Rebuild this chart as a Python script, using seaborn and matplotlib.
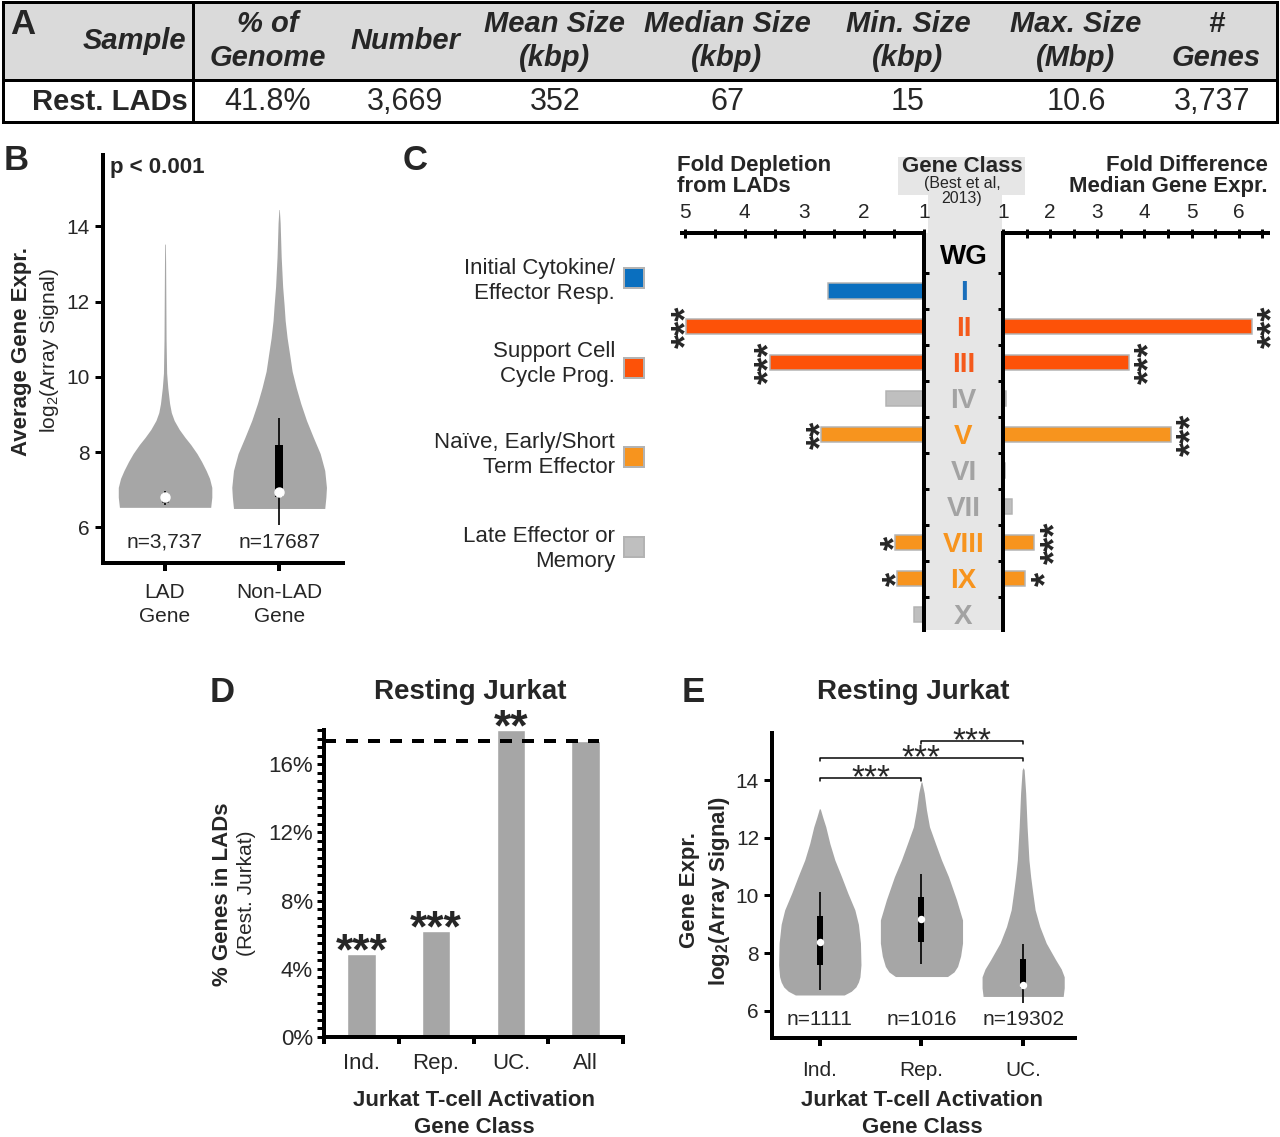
import numpy as np
import pandas as pd
import matplotlib
matplotlib.use("Agg")
import matplotlib.pyplot as plt
from matplotlib.patches import Rectangle
from matplotlib.ticker import MultipleLocator, FixedLocator
import seaborn as sns

# ================= DATA =================
# Panel A: LAD summary table
table_columns = ["Sample", "% of\nGenome", "Number", "Mean Size\n(kbp)", "Median Size\n(kbp)",
                 "Min. Size\n(kbp)", "Max. Size\n(Mbp)", "#\nGenes"]
table_row = ["Rest. LADs", "41.8%", "3,669", "352", "67", "15", "10.6", "3,737"]

# Panel B: expression of LAD vs non-LAD genes (violin outlines)
b_groups = ["LAD\nGene", "Non-LAD\nGene"]
b_counts = ["n=3,737", "n=17687"]
b_lad_level = [6.53, 6.8, 7.06, 7.3, 7.51, 7.75, 7.96, 8.2, 8.39, 8.6, 8.84, 9.05, 9.29, 9.71, 10.1, 11.0, 12.0, 13.0, 13.53]
b_lad_width = [0.40, 0.41, 0.41, 0.39, 0.36, 0.32, 0.28, 0.225, 0.175, 0.125, 0.08, 0.055, 0.04, 0.024, 0.014, 0.009, 0.007, 0.005, 0.003]
b_nonlad_level = [6.5, 6.8, 7.06, 7.51, 7.96, 8.39, 8.84, 9.29, 9.71, 10.15, 10.6, 11.04, 11.5, 11.9, 12.4, 13.2, 14.1, 14.45]
b_nonlad_width = [0.40, 0.41, 0.415, 0.40, 0.36, 0.30, 0.24, 0.19, 0.15, 0.114, 0.092, 0.07, 0.053, 0.044, 0.031, 0.018, 0.009, 0.002]
b_box_stats = [[6.60, 6.68, 6.80, 6.92, 6.97],     # whisker low, Q1, median, Q3, whisker high
               [6.05, 6.80, 6.95, 8.20, 8.91]]

# Panel C: Best et al. 2013 gene classes
c_classes = ["WG", "I", "II", "III", "IV", "V", "VI", "VII", "VIII", "IX", "X"]
c_groups = ["wg", "init", "support", "support", "late", "naive", "late", "late", "naive", "naive", "late"]
c_depletion = [1.0, 2.6, 4.98, 3.58, 1.63, 2.72, 1.0, 1.0, 1.48, 1.45, 1.17]
c_expr_diff = [1.0, 1.0, 6.28, 3.67, 1.06, 4.56, 1.05, 1.2, 1.66, 1.47, 1.0]
c_depl_sig = ["", "", "***", "***", "", "**", "", "", "*", "*", ""]
c_expr_sig = ["", "", "***", "***", "", "***", "", "", "***", "*", ""]
c_legend_groups = ["init", "support", "naive", "late"]
c_legend_labels = ["Initial Cytokine/\nEffector Resp.", "Support Cell\nCycle Prog.",
                   "Naïve, Early/Short\nTerm Effector", "Late Effector or\nMemory"]

# Panel D: % genes in LADs
d_classes = ["Ind.", "Rep.", "UC.", "All"]
d_pct = [4.85, 6.2, 17.98, 17.35]
d_sig = ["***", "***", "**", ""]

# Panel E: expression by activation class
e_classes = ["Ind.", "Rep.", "UC."]
e_counts = ["n=1111", "n=1016", "n=19302"]
e_ind_level = [6.55, 6.68, 6.83, 7.0, 7.18, 7.6, 8.35, 9.0, 9.5, 10.08, 10.65, 11.23, 11.8, 12.38, 12.7, 13.0]
e_ind_width = [0.24, 0.31, 0.355, 0.38, 0.395, 0.405, 0.40, 0.38, 0.345, 0.276, 0.214, 0.148, 0.099, 0.059, 0.03, 0.005]
e_rep_level = [7.19, 7.35, 7.54, 7.9, 8.35, 9.15, 9.85, 10.65, 11.23, 11.8, 12.38, 12.97, 13.55, 13.93]
e_rep_width = [0.256, 0.32, 0.355, 0.385, 0.404, 0.404, 0.345, 0.266, 0.197, 0.138, 0.079, 0.049, 0.027, 0.004]
e_uc_level = [6.5, 6.8, 7.18, 7.45, 7.77, 8.35, 8.92, 9.5, 10.08, 10.65, 11.23, 12.38, 13.55, 14.35, 14.42]
e_uc_width = [0.394, 0.404, 0.404, 0.375, 0.32, 0.227, 0.164, 0.118, 0.095, 0.074, 0.057, 0.039, 0.025, 0.01, 0.002]
e_box_stats = [[6.73, 7.60, 8.40, 9.30, 10.13],
               [7.63, 8.40, 9.18, 9.96, 10.75],
               [6.29, 6.80, 6.90, 7.80, 8.32]]
e_pairs = [(0, 1), (0, 2), (1, 2)]
e_pair_level = [14.07, 14.77, 15.37]
e_pair_sig = ["***", "***", "***"]

# ================= STYLE =================
W, H = 1280, 1137
PT = 0.72  # points per pixel at 100 dpi
VIOLIN = "#a6a6a6"
BAR_GRAY = "#a6a6a6"
C_BAR = {"wg": "#000000", "init": "#0a6fbf", "support": "#fd5208", "naive": "#f7941e", "late": "#bfbfbf"}
C_TXT = {"wg": "#000000", "init": "#1a6fbb", "support": "#f45a1c", "naive": "#f7941e", "late": "#a3a3a3"}
NARROW = ["Liberation Sans Narrow", "Liberation Sans", "DejaVu Sans"]

sns.set_theme(style="white")
plt.rcParams["font.family"] = ["Liberation Sans", "DejaVu Sans"]
plt.rcParams["mathtext.default"] = "regular"

fig = plt.figure(figsize=(W / 100, H / 100), dpi=100)
fig.patch.set_facecolor("white")


def add_ax(x0, y0, x1, y1):
    a = fig.add_axes([x0 / W, 1 - y1 / H, (x1 - x0) / W, (y1 - y0) / H])
    a.set_facecolor("none")
    a.grid(False)
    return a


def style_lb(ax, lw_px=4):
    for s in ("top", "right"):
        ax.spines[s].set_visible(False)
    for s in ("left", "bottom"):
        ax.spines[s].set_linewidth(lw_px * PT)
        ax.spines[s].set_color("black")


def draw_violin(ax, pos, levels, widths, stats, box_px, dot_px):
    lv = np.asarray(levels)
    wd = np.asarray(widths)
    ax.fill_betweenx(lv, pos - wd, pos + wd, color=VIOLIN, lw=0, zorder=2)
    lo, q1, med, q3, hi = stats
    ax.plot([pos, pos], [lo, hi], color="black", lw=1.2, zorder=3, solid_capstyle="butt")
    ax.plot([pos, pos], [q1, q3], color="black", lw=box_px * PT, zorder=4, solid_capstyle="butt")
    ax.plot([pos], [med], marker="o", ms=dot_px * PT, mfc="white", mec="white", zorder=5)


# ================= PANEL B =================
axB = add_ax(103, 155, 343, 563)
draw_violin(axB, 0, b_lad_level, b_lad_width, b_box_stats[0], 7, 9)
draw_violin(axB, 1, b_nonlad_level, b_nonlad_width, b_box_stats[1], 8, 9)
for i, n in enumerate(b_counts):
    axB.text(i, 5.6, n, ha="center", va="center", fontsize=15)
axB.set_xlim(-0.544, 1.56)
axB.set_ylim(5.05, 15.9)
axB.set_xticks(range(len(b_groups)))
axB.set_xticklabels(b_groups, fontsize=15, linespacing=1.35)
axB.set_yticks([6, 8, 10, 12, 14])
style_lb(axB)
axB.tick_params(axis="y", left=True, direction="out", length=8 * PT, width=3 * PT,
                color="black", labelsize=15, pad=5 * PT)
axB.tick_params(axis="x", bottom=True, direction="out", length=8 * PT, width=4 * PT,
                color="black", pad=12 * PT)

# ================= PANEL C =================
dfC = pd.DataFrame({"cls": c_classes, "grp": c_groups, "depl": c_depletion, "expr": c_expr_diff})
ylimC = (10.42, -0.61)

axCL = add_ax(682, 233, 924, 630)
sns.barplot(data=dfC, y="cls", x="depl", hue="grp", palette=C_BAR, order=c_classes, dodge=False,
            orient="h", width=0.42, edgecolor="#b3b3b3", linewidth=1.5 * PT, saturation=1,
            legend=False, ax=axCL)
axCR = add_ax(1003, 233, 1268, 630)
sns.barplot(data=dfC, y="cls", x="expr", hue="grp", palette=C_BAR, order=c_classes, dodge=False,
            orient="h", width=0.42, edgecolor="#b3b3b3", linewidth=1.5 * PT, saturation=1,
            legend=False, ax=axCR)
for ax, lims, ticks in ((axCL, (5.05, 1.0), [1, 2, 3, 4, 5]), (axCR, (1.0, 6.62), [1, 2, 3, 4, 5, 6])):
    ax.set_xlim(*lims)
    ax.set_ylim(*ylimC)
    ax.set_yticks([])
    ax.set_xlabel("")
    ax.set_ylabel("")
    for s in ("left", "right", "bottom"):
        ax.spines[s].set_visible(False)
    ax.spines["top"].set_linewidth(4 * PT)
    ax.spines["top"].set_color("black")
    ax.xaxis.tick_top()
    ax.set_xticks(ticks)
    ax.xaxis.set_minor_locator(MultipleLocator(0.5))
    ax.tick_params(axis="x", which="both", top=True, bottom=False, labeltop=True, labelbottom=False,
                   direction="inout", length=9 * PT, width=3 * PT, color="black")
    ax.tick_params(axis="x", which="major", labelsize=15, pad=5)

for i, s in enumerate(c_depl_sig):
    if s:
        axCL.annotate(s, xy=(c_depletion[i], i), xytext=(1 * PT, 0), textcoords="offset points",
                      rotation=90, ha="center", va="center", fontsize=26, fontweight="bold",
                      annotation_clip=False)
for i, s in enumerate(c_expr_sig):
    if s:
        axCR.annotate(s, xy=(c_expr_diff[i], i), xytext=(22 * PT, 0), textcoords="offset points",
                      rotation=90, ha="center", va="center", fontsize=26, fontweight="bold",
                      annotation_clip=False)

axCM = fig.add_axes([924 / W, 1 - 630 / H, (1003 - 924) / W, (630 - 233) / H])
axCM.set_facecolor("#e6e6e6")
axCM.grid(False)
axCM.set_xlim(0, 1)
axCM.set_ylim(*ylimC)
axCM.set_xticks([])
axCM.set_yticks(np.arange(0.5, len(c_classes) - 0.5, 1.0))
axCM.set_yticklabels([])
axCM.tick_params(axis="y", left=True, right=True, direction="in", length=5 * PT, width=3 * PT, color="black")
for s in ("top", "bottom"):
    axCM.spines[s].set_visible(False)
for s in ("left", "right"):
    axCM.spines[s].set_linewidth(4 * PT)
    axCM.spines[s].set_color("black")
for i, (c, g) in enumerate(zip(c_classes, c_groups)):
    axCM.text(0.5, i + 0.05, c, ha="center", va="center", fontsize=20, fontweight="bold", color=C_TXT[g])

# ================= PANEL D =================
axD = add_ax(324, 730, 623, 1037)
dfD = pd.DataFrame({"cls": d_classes, "pct": d_pct})
sns.barplot(data=dfD, x="cls", y="pct", color=BAR_GRAY, saturation=1, width=0.38, ax=axD)
axD.axhline(d_pct[-1], xmin=0, xmax=0.92, color="black", lw=4 * PT, ls=(0, (3, 2.5)), zorder=4)
for i, s in enumerate(d_sig):
    if s:
        axD.annotate(s, xy=(i, d_pct[i]), xytext=(0, -7), textcoords="offset points",
                     ha="center", va="baseline", fontsize=32, fontweight="bold", annotation_clip=False)
axD.set_xlim(-0.5, 3.5)
axD.set_ylim(0, 18)
axD.set_xlabel("")
axD.set_ylabel("")
axD.set_yticks([0, 4, 8, 12, 16])
axD.set_yticklabels([f"{v}%" for v in [0, 4, 8, 12, 16]])
axD.yaxis.set_minor_locator(MultipleLocator(0.5))
axD.xaxis.set_minor_locator(FixedLocator([-0.5, 0.5, 1.5, 2.5, 3.5]))
style_lb(axD)
axD.tick_params(axis="y", which="both", left=True, direction="out", length=7 * PT, width=3 * PT, color="black")
axD.tick_params(axis="y", which="major", labelsize=16, pad=4 * PT)
axD.tick_params(axis="x", which="major", bottom=True, length=0, labelsize=16, pad=16 * PT)
axD.tick_params(axis="x", which="minor", bottom=True, direction="out", length=7 * PT, width=4 * PT, color="black")

# ================= PANEL E =================
axE = add_ax(772, 733, 1075, 1038)
e_levels = [e_ind_level, e_rep_level, e_uc_level]
e_widths = [e_ind_width, e_rep_width, e_uc_width]
for i in range(len(e_classes)):
    draw_violin(axE, i, e_levels[i], e_widths[i], e_box_stats[i], 6, 6)
    axE.text(i, 5.69, e_counts[i], ha="center", va="center", fontsize=15)
for (a, b), lvl, s in zip(e_pairs, e_pair_level, e_pair_sig):
    axE.plot([a, a, b, b], [lvl - 0.12, lvl, lvl, lvl - 0.12], color="black", lw=1.5 * PT, zorder=3)
    axE.annotate(s, xy=((a + b) / 2, lvl), xytext=(0, -7), textcoords="offset points",
                 ha="center", va="baseline", fontsize=24, annotation_clip=False)
axE.set_xlim(-0.47, 2.51)
axE.set_ylim(5.06, 15.63)
axE.set_xticks(range(len(e_classes)))
axE.set_xticklabels(e_classes, fontsize=15)
axE.set_yticks([6, 8, 10, 12, 14])
style_lb(axE)
axE.tick_params(axis="y", left=True, direction="out", length=8 * PT, width=3 * PT, color="black",
                labelsize=15, pad=5 * PT)
axE.tick_params(axis="x", bottom=True, direction="out", length=8 * PT, width=4 * PT, color="black",
                pad=15 * PT)

# ================= OVERLAY (table, legends, labels) =================
ov = fig.add_axes([0, 0, 1, 1])
ov.set_zorder(-1)
ov.set_xlim(0, W)
ov.set_ylim(H, 0)
ov.axis("off")

# --- Table A ---
ov.add_patch(Rectangle((3, 2), 1274, 78, facecolor="#dadada", edgecolor="none", zorder=0))
ov.add_patch(Rectangle((3, 2), 1274, 120, facecolor="none", edgecolor="black", lw=3 * PT, zorder=3))
ov.plot([3, 1277], [80, 80], color="black", lw=3 * PT, zorder=3)
ov.plot([193, 193], [2, 122], color="black", lw=3 * PT, zorder=3)
head_x = [186, 268, 405, 555, 727, 908, 1076, 1216]
val_x = [188, 268, 405, 555, 727, 908, 1076, 1212]
for k, (hx, htxt) in enumerate(zip(head_x, table_columns)):
    ov.text(hx, 41, htxt, ha="right" if k == 0 else "center", va="center", fontsize=21,
            fontweight="bold", fontstyle="italic", family=NARROW, linespacing=1.25)
for k, (vx, vtxt) in enumerate(zip(val_x, table_row)):
    ov.text(vx, 102, vtxt, ha="right" if k == 0 else "center", va="center", fontsize=22 if k else 21,
            fontweight="bold" if k == 0 else "normal", family=NARROW)

# --- panel letters ---
for letter, (lx, ly) in zip("ABCDE", [(23, 24), (16, 161), (415, 160), (222, 692), (693, 692)]):
    ov.text(lx, ly, letter, ha="center", va="center", fontsize=25, fontweight="bold")

# --- B labels ---
ov.text(110, 168, "p < 0.001", ha="left", va="center", fontsize=16, fontweight="bold")
ov.text(22, 352, "Average Gene Expr.", rotation=90, ha="center", va="center", fontsize=16, fontweight="bold")
ov.text(50, 350, "log$_2$(Array Signal)", rotation=90, ha="center", va="center", fontsize=15)

# --- C headers & legend ---
ov.add_patch(Rectangle((898, 157), 127, 38, facecolor="#e6e6e6", edgecolor="none", zorder=0))
ov.add_patch(Rectangle((928, 195), 74, 38, facecolor="#e6e6e6", edgecolor="none", zorder=0))
ov.text(677, 176, "Fold Depletion\nfrom LADs", ha="left", va="center", fontsize=16, fontweight="bold",
        linespacing=0.95)
ov.text(1268, 176, "Fold Difference\nMedian Gene Expr.", ha="right", va="center", fontsize=16,
        fontweight="bold", linespacing=0.95)
ov.text(962, 166, "Gene Class", ha="center", va="center", fontsize=16, fontweight="bold")
ov.text(962, 191, "(Best et al,\n2013)", ha="center", va="center", fontsize=11.5, linespacing=1.05)
leg_text_y = [281, 364, 455, 549]
leg_box_y = [278, 368, 457, 547]
for g, lab, ty, by in zip(c_legend_groups, c_legend_labels, leg_text_y, leg_box_y):
    ov.text(615, ty, lab, ha="right", va="center", fontsize=16, linespacing=1.3)
    ov.add_patch(Rectangle((624, by - 10), 20, 20, facecolor=C_BAR[g], edgecolor="#b3b3b3", lw=2 * PT))

# --- D labels ---
ov.text(470, 692, "Resting Jurkat", ha="center", va="center", fontsize=20, fontweight="bold")
ov.text(223, 894, "% Genes in LADs", rotation=90, ha="center", va="center", fontsize=16, fontweight="bold")
ov.text(246, 893, "(Rest. Jurkat)", rotation=90, ha="center", va="center", fontsize=15)
ov.text(474, 1114, "Jurkat T-cell Activation\nGene Class", ha="center", va="center", fontsize=16,
        fontweight="bold", linespacing=1.35)

# --- E labels ---
ov.text(913, 692, "Resting Jurkat", ha="center", va="center", fontsize=20, fontweight="bold")
ov.text(690, 890, "Gene Expr.", rotation=90, ha="center", va="center", fontsize=16, fontweight="bold")
ov.text(719, 891, "log$_2$(Array Signal)", rotation=90, ha="center", va="center", fontsize=16, fontweight="bold")
ov.text(922, 1114, "Jurkat T-cell Activation\nGene Class", ha="center", va="center", fontsize=16,
        fontweight="bold", linespacing=1.35)

fig.savefig("out.png", dpi=100, facecolor="white")
